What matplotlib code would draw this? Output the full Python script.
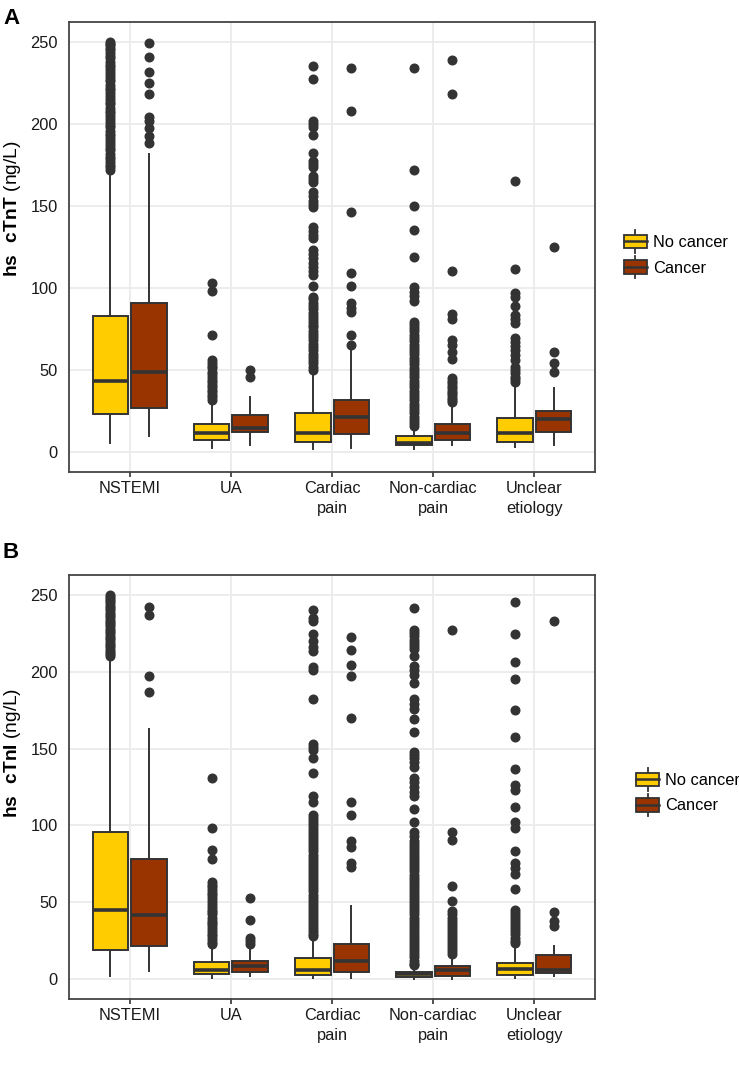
import matplotlib
matplotlib.use("Agg")
import matplotlib.pyplot as plt
from matplotlib.legend_handler import HandlerBase
from matplotlib.patches import Rectangle, Patch
from matplotlib.lines import Line2D

plt.rcParams['font.family'] = ['Liberation Sans', 'DejaVu Sans']
plt.rcParams['mathtext.fontset'] = 'custom'
plt.rcParams['mathtext.rm'] = 'Liberation Sans'
plt.rcParams['mathtext.bf'] = 'Liberation Sans:bold'

categories = ["NSTEMI", "UA", "Cardiac\npain", "Non-cardiac\npain", "Unclear\netiology"]
groups = ["No cancer", "Cancer"]
colours = ["#FFCC00", "#993300"]

# box stats per category: whislo, q1, median, q3, whishi
tnt_nocancer_box = [[5.5, 23, 43, 83, 170], [2.6, 7.3, 11.4, 17, 30], [1.6, 6.3, 11.4, 24, 49],
                    [1.8, 4.3, 5.5, 9.8, 15.4], [3.3, 6.3, 11.8, 20.5, 38.8]]
tnt_cancer_box = [[10, 27, 49, 91, 182], [4.3, 12, 14.4, 22.6, 33.7], [2.6, 11, 21.1, 31.7, 62],
                  [4.3, 7.3, 11.4, 17, 29.7], [4.3, 12, 19.9, 25.2, 39.2]]

tnt_nocancer_out = [
    [172, 173.5, 175, 177, 178.5, 180, 182, 184, 185.5, 187, 189, 191, 192.5, 194, 196, 198, 199.5, 201,
     203, 205, 206.5, 208, 210, 212, 213.5, 215, 217, 219, 220.5, 222, 224, 226, 227.5, 229, 231, 233,
     234.5, 236, 238, 240, 241.5, 243, 245, 246.5, 248, 249, 250],
    [103.2, 98.2, 71.1, 56, 54, 52.5, 51, 49, 47.5, 46, 44, 42.5, 41, 39.5, 38, 36.5, 35, 33.5, 32],
    [235.4, 227.2, 202, 200, 198.4, 193.1, 182.1, 177.4, 175.5, 174, 168, 166.5, 164.8, 158.7, 156, 153,
     151.5, 149.6, 137.4, 135, 132.5, 130.3, 123, 120.5, 118, 115.5, 113, 110.5, 108, 101.2, 94.7, 93, 91,
     89, 87, 85, 83, 81, 79, 77.5, 76, 74, 72, 70, 68, 66, 64, 62, 60, 58, 56, 54, 52, 50],
    [234, 172, 150.2, 135.2, 119.1, 100.8, 97.5, 95, 92.3, 79.5, 77.5, 75.5, 73.5, 71.5, 69.5, 67.5, 65.5,
     63.5, 61.5, 59.5, 57.5, 55.5, 53.5, 51.5, 49.5, 47.5, 45.5, 43.5, 41.5, 39.5, 37.5, 35.5, 33.5, 31.5,
     29.5, 27.5, 25.5, 23.5, 21.5, 19.5, 17.5, 16],
    [165.2, 111.4, 96.7, 94.7, 89, 83.5, 81, 78.9, 69.3, 67, 64.5, 62, 59, 56.1, 52, 50, 48, 46, 44.5, 42.9],
]
tnt_cancer_out = [
    [249.2, 241, 231.9, 225.2, 218.3, 204.1, 202, 197.4, 192.9, 188.2],
    [50, 46],
    [234, 208.1, 146.1, 109.4, 101.2, 90.7, 88, 85.6, 71.3, 65.2],
    [239, 218.1, 110.4, 84.4, 81, 68.3, 65, 61, 57, 45, 43.5, 42, 40.5, 39, 37.5, 36, 34.5, 33, 31.5, 30.7],
    [125.2, 61.2, 54.1, 49],
]

tni_nocancer_box = [[2.2, 18.8, 45.2, 95.6, 208.7], [0.4, 3.2, 6, 11.3, 23.4], [0.4, 2.6, 6.1, 13.4, 27.6],
                    [0, 1.1, 3.5, 4.5, 8.2], [0.6, 2.8, 6.5, 10.4, 23.4]]
tni_cancer_box = [[5, 21.8, 41.7, 78.4, 162.9], [1.7, 4.3, 8.2, 11.9, 21.2], [0.6, 4.5, 11.5, 22.7, 47.2],
                  [0, 2.2, 6.1, 8.2, 15.8], [2.2, 3.9, 6.1, 15.8, 21.7]]

tni_nocancer_out = [
    [210, 211.5, 213, 214.5, 216, 217.5, 219, 220.5, 222, 223.5, 225, 226.5, 228, 229.5, 231, 232.5, 234,
     235.5, 237, 238.5, 240, 241.5, 243, 244.5, 246, 247.5, 249, 250],
    [130.8, 98.4, 83.9, 78.2, 63, 61.5, 60, 58, 56, 54.5, 53, 51, 49, 47, 45, 43.5, 42, 40, 38, 36.5, 35,
     33, 31, 29.5, 28, 26, 24, 22.5],
    [240.4, 234.7, 233, 224.5, 220, 216, 213.3, 203, 201.4, 182.2, 153, 151, 149, 143.9, 134.3, 119.4,
     115.3, 107, 105, 103, 101, 99, 97, 95, 93, 91, 89, 87, 85, 83, 81, 79, 77, 75, 73, 71, 69, 67, 65,
     63, 61, 59, 57, 55, 53, 51, 49, 47, 45, 43, 41, 39, 37, 35, 33, 31, 29, 28],
    [241.8, 227, 225, 223, 221, 219, 217, 215, 210, 204, 201, 198, 193, 182, 179, 176, 169, 160.6, 148, 146,
     144, 141, 138, 131, 128, 125, 122, 119, 110.6, 102.4, 96, 93, 90, 88, 86, 84, 82, 80, 78, 76, 74, 72,
     70, 68, 66, 64, 62, 60, 58, 56, 54, 52, 50, 48, 46, 44, 42, 40, 38, 36, 34, 32, 30, 28, 26, 24, 22,
     20, 18, 16, 14, 12, 10, 9],
    [245.3, 224.5, 206.5, 195.3, 175.1, 157.6, 136.7, 126, 123, 112.2, 102.4, 98, 83.3, 75.5, 72, 68.4,
     58.8, 45, 43, 41, 39, 37, 35, 33, 31, 29, 27, 25, 23.5],
]
tni_cancer_out = [
    [242.3, 236.8, 197.1, 186.9],
    [52.9, 38.1, 26.5, 24.5, 22.8],
    [222.4, 213.9, 204.1, 197.3, 169.8, 115.1, 106.9, 89.8, 86.1, 75.4, 73.2],
    [227.3, 95.9, 90.7, 60.3, 51, 44, 42, 40, 38, 36, 34, 32, 30, 28, 26, 24, 22, 20, 18, 16.5],
    [233.3, 43.9, 37.8, 34.7],
]

dark = "#333333"


class BoxKey(HandlerBase):
    def create_artists(self, legend, orig_handle, xdescent, ydescent, width, height, fontsize, trans):
        x0, y0 = -xdescent, -ydescent
        fc = orig_handle.get_facecolor()
        bh = height * 0.72
        by = y0 + (height - bh) / 2
        rect = Rectangle((x0, by), width, bh, facecolor=fc, edgecolor=dark, lw=1.3, transform=trans)
        med = Line2D([x0, x0 + width], [y0 + height / 2] * 2, color=dark, lw=1.8, transform=trans)
        lo = Line2D([x0 + width / 2] * 2, [y0 - height * 0.12, by], color=dark, lw=1.3, transform=trans)
        hi = Line2D([x0 + width / 2] * 2, [by + bh, y0 + height * 1.12], color=dark, lw=1.3, transform=trans)
        return [lo, hi, rect, med]


def draw_panel(ax, box_lists, out_lists, ylabel, ylim, leg_anchor, label_y):
    offsets = [-0.19, 0.19]
    for g in range(2):
        stats = []
        for i in range(len(categories)):
            lo, q1, med, q3, hi = box_lists[g][i]
            stats.append(dict(whislo=lo, q1=q1, med=med, q3=q3, whishi=hi, fliers=out_lists[g][i]))
        pos = [i + 1 + offsets[g] for i in range(len(categories))]
        ax.bxp(stats, positions=pos, widths=0.35, patch_artist=True, showcaps=False,
               boxprops=dict(facecolor=colours[g], edgecolor=dark, linewidth=1.4),
               medianprops=dict(color=dark, linewidth=2.6),
               whiskerprops=dict(color=dark, linewidth=1.4),
               flierprops=dict(marker='o', markerfacecolor=dark, markeredgecolor=dark, markersize=6.2),
               zorder=3)
    ax.set_xlim(0.4, 5.6)
    ax.set_ylim(*ylim)
    ax.set_yticks([0, 50, 100, 150, 200, 250])
    ax.set_xticks(range(1, 6))
    ax.set_xticklabels(categories, fontsize=11.8, color="#1a1a1a", linespacing=1.4)
    ax.tick_params(axis='y', length=0, pad=8, labelsize=11.8, labelcolor="#1a1a1a")
    ax.tick_params(axis='x', length=3.5, width=1.2, color=dark, pad=3)
    ax.grid(True, color="#EBEBEB", linewidth=1.3, zorder=0)
    ax.set_axisbelow(True)
    for s in ax.spines.values():
        s.set_color("#444444")
        s.set_linewidth(1.3)
    ax.set_ylabel(ylabel, fontsize=13.8)
    ax.yaxis.set_label_coords(-0.088, label_y)
    handles = [Patch(facecolor=colours[0], label=groups[0]), Patch(facecolor=colours[1], label=groups[1])]
    ax.legend(handles=handles, loc='center left', bbox_to_anchor=leg_anchor, frameon=False,
              handler_map={Patch: BoxKey()}, handlelength=1.4, handleheight=1.35,
              labelspacing=0.45, handletextpad=0.35, fontsize=11.8)


fig = plt.figure(figsize=(7.39, 10.76), dpi=100)
ax1 = fig.add_axes([0.0934, 0.5613, 0.7118, 0.4183])
ax2 = fig.add_axes([0.0934, 0.0716, 0.7118, 0.394])

draw_panel(ax1, [tnt_nocancer_box, tnt_cancer_box], [tnt_nocancer_out, tnt_cancer_out],
           r"$\mathbf{hs\ \ cTnT}$ (ng/L)", (-12.2, 262.2), (1.027, 0.484), 0.584)
draw_panel(ax2, [tni_nocancer_box, tni_cancer_box], [tni_nocancer_out, tni_cancer_out],
           r"$\mathbf{hs\ \ cTnI}$ (ng/L)", (-13.0, 263.0), (1.05, 0.488), 0.58)

fig.text(0.004, 1 - 18 / 1076, "A", fontsize=16, fontweight='bold', va='center', ha='left')
fig.text(0.004, 1 - 553 / 1076, "B", fontsize=16, fontweight='bold', va='center', ha='left')

fig.savefig("out.png", dpi=100)
